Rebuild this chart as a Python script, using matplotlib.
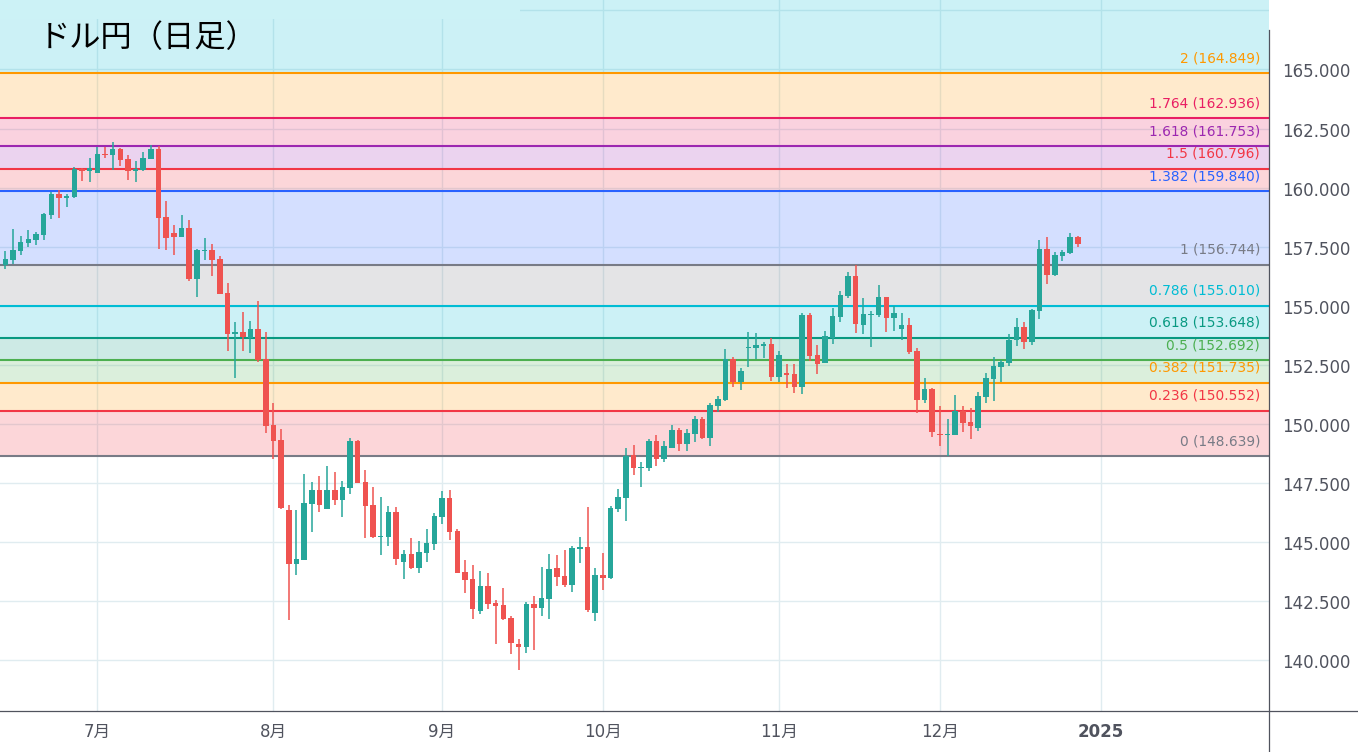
import numpy as np
import matplotlib
matplotlib.use('Agg')
import matplotlib.pyplot as plt
from matplotlib.lines import Line2D
from matplotlib.patches import Rectangle
from matplotlib.transforms import ScaledTranslation

plt.rcParams['font.family'] = ['DejaVu Sans', 'Noto Sans CJK JP']

# daily USDJPY candles
opens = [157.11, 156.73, 156.94, 157.32, 157.66, 157.79, 158.00, 158.84, 159.73, 159.56, 159.61, 160.79, 160.71,
         160.62, 161.42, 161.38, 161.64, 161.21, 160.71, 160.75, 161.21, 161.64, 158.76, 158.08, 157.91, 158.29,
         156.14, 157.32, 157.36, 156.98, 155.55, 153.81, 153.90, 153.64, 154.02, 152.75, 149.95, 149.32, 146.36,
         144.07, 144.24, 146.61, 147.20, 146.40, 147.20, 146.78, 147.29, 149.28, 147.54, 146.57, 145.22, 145.22,
         146.27, 144.16, 144.50, 143.90, 144.54, 144.92, 146.06, 146.87, 145.47, 143.74, 143.44, 142.09, 143.14,
         142.42, 142.34, 141.79, 140.69, 140.56, 142.38, 142.21, 142.59, 143.91, 143.57, 143.19, 144.71, 144.79,
         142.00, 143.61, 143.48, 146.40, 146.87, 148.69, 148.14, 148.14, 149.28, 148.52, 148.98, 149.74, 149.15,
         149.57, 150.21, 149.40, 150.76, 151.01, 152.75, 151.77, 153.21, 153.21, 153.30, 153.38, 151.99, 152.16,
         152.11, 151.56, 154.61, 152.92, 152.58, 153.64, 154.53, 155.41, 156.26, 154.19, 154.61, 154.61, 155.37,
         154.48, 154.02, 154.19, 153.09, 151.01, 151.48, 149.58, 149.53, 149.53, 150.55, 150.09, 149.83, 151.14,
         151.90, 152.41, 152.58, 153.55, 154.10, 153.47, 154.78, 157.40, 156.30, 157.11, 157.23, 157.91]
highs = [157.30, 157.32, 158.25, 157.96, 158.21, 158.13, 158.93, 159.82, 159.90, 159.73, 160.87, 160.83, 161.26,
         161.73, 161.72, 161.93, 161.68, 161.38, 161.13, 161.51, 161.82, 161.76, 159.44, 158.42, 158.84, 158.63,
         157.41, 157.87, 157.62, 157.11, 155.97, 154.32, 154.74, 154.36, 155.21, 153.90, 150.88, 149.78, 146.57,
         146.36, 147.88, 147.54, 147.80, 148.22, 147.97, 147.58, 149.40, 149.32, 148.05, 147.33, 146.91, 146.53,
         146.48, 144.67, 145.17, 145.05, 145.55, 146.23, 147.16, 147.20, 145.55, 144.22, 144.03, 143.78, 143.69,
         142.55, 143.06, 141.87, 140.90, 142.47, 142.72, 143.95, 144.50, 144.46, 144.67, 144.84, 145.22, 146.49,
         143.91, 144.54, 146.53, 147.25, 148.98, 149.11, 148.39, 149.36, 149.53, 149.28, 149.95, 149.83, 149.79,
         150.34, 150.29, 150.89, 151.18, 153.17, 152.83, 152.37, 153.89, 153.85, 153.47, 153.64, 153.09, 152.54,
         152.54, 154.70, 154.70, 153.34, 153.93, 154.91, 155.63, 156.43, 156.73, 155.33, 154.78, 155.88, 155.39,
         154.99, 154.70, 154.48, 153.21, 151.95, 151.52, 150.76, 150.21, 151.23, 150.76, 150.68, 151.35, 152.16,
         152.83, 152.71, 153.81, 154.48, 154.32, 154.87, 157.78, 157.91, 157.28, 157.36, 158.08, 157.95]
lows = [156.70, 156.56, 156.77, 157.15, 157.49, 157.58, 157.79, 158.68, 158.72, 159.18, 159.58, 160.28, 160.24,
        160.60, 161.26, 160.75, 160.92, 160.32, 160.24, 160.71, 161.19, 157.41, 157.36, 157.15, 157.89, 156.05,
        155.38, 156.94, 156.26, 155.48, 153.09, 151.95, 153.09, 153.01, 152.63, 149.62, 148.52, 146.40, 141.70,
        143.61, 144.22, 145.43, 146.27, 146.38, 146.57, 146.06, 147.03, 147.48, 145.17, 145.17, 144.45, 144.84,
        144.03, 143.44, 143.88, 143.69, 144.16, 144.67, 145.77, 145.09, 143.67, 142.85, 141.75, 141.96, 142.17,
        140.69, 141.70, 140.27, 139.59, 140.31, 140.44, 141.87, 141.75, 143.14, 143.10, 142.89, 144.12, 142.04,
        141.66, 142.97, 143.44, 146.27, 145.89, 147.84, 147.33, 148.01, 148.22, 148.39, 148.96, 148.85, 148.85,
        149.24, 149.36, 149.07, 150.50, 150.97, 151.56, 151.43, 152.41, 152.75, 152.79, 151.82, 151.78, 151.52,
        151.31, 151.27, 152.66, 152.11, 152.56, 153.38, 154.31, 155.33, 153.85, 153.81, 153.26, 154.53, 153.89,
        153.93, 153.55, 152.96, 150.47, 150.89, 149.45, 149.07, 148.65, 149.51, 149.66, 149.37, 149.70, 150.89,
        150.97, 151.78, 152.45, 153.30, 153.17, 153.34, 154.44, 155.92, 156.28, 156.90, 157.21, 157.49]
closes = [156.73, 156.98, 157.36, 157.70, 157.83, 158.04, 158.89, 159.73, 159.56, 159.65, 160.79, 160.71, 160.83,
          161.42, 161.38, 161.64, 161.17, 160.71, 160.79, 161.26, 161.64, 158.72, 157.87, 157.91, 158.29, 156.14,
          157.36, 157.36, 156.94, 155.50, 153.81, 153.90, 153.68, 154.02, 152.71, 149.93, 149.28, 146.44, 144.07,
          144.29, 146.65, 147.20, 146.57, 147.20, 146.78, 147.33, 149.28, 147.50, 146.53, 145.22, 145.26, 146.27,
          144.29, 144.50, 143.90, 144.58, 144.96, 146.10, 146.87, 145.43, 143.69, 143.40, 142.17, 143.14, 142.38,
          142.30, 141.75, 140.73, 140.56, 142.38, 142.21, 142.64, 143.86, 143.52, 143.19, 144.75, 144.79, 142.13,
          143.61, 143.48, 146.44, 146.91, 148.64, 148.14, 148.18, 149.28, 148.52, 149.07, 149.74, 149.15, 149.62,
          150.21, 149.40, 150.80, 151.05, 152.75, 151.77, 152.24, 153.26, 153.34, 153.38, 151.99, 152.92, 152.07,
          151.56, 154.61, 152.88, 152.54, 153.72, 154.57, 155.46, 156.26, 154.23, 154.65, 154.65, 155.37, 154.48,
          154.70, 154.19, 153.05, 151.01, 151.48, 149.66, 149.53, 149.58, 150.55, 150.04, 149.92, 151.19, 151.95,
          152.45, 152.62, 153.55, 154.10, 153.47, 154.82, 157.40, 156.30, 157.15, 157.28, 157.91, 157.61]
first_bar = -13  # bars shown before the 7月 tick

# fibonacci levels
fib_ratio = ['0', '0.236', '0.382', '0.5', '0.618', '0.786', '1', '1.382', '1.5', '1.618', '1.764', '2']
fib_price = [148.639, 150.552, 151.735, 152.692, 153.648, 155.010, 156.744, 159.840, 160.796, 161.753, 162.936, 164.849]
fib_color = ['#787b86', '#f23645', '#ff9800', '#4caf50', '#089981', '#00bcd4', '#787b86', '#2962ff', '#f23645',
             '#9c27b0', '#e91e63', '#ff9800']

month_labels = ['7月', '8月', '9月', '10月', '11月', '12月', '2025']
month_bars = [0, 23, 45, 66, 89, 110, 131]
price_ticks = [140, 142.5, 145, 147.5, 150, 152.5, 155, 157.5, 160, 162.5, 165]
grid_only = [167.5]

W, H = 1358, 752
fig = plt.figure(figsize=(W / 100, H / 100), dpi=100)
ax = fig.add_axes([0, 41 / H, 1269 / W, 711 / H])
ax.set_xlim(-12.70, 152.96)
ax.set_ylim(137.85, 167.94)

grid_c = '#e0ecf0'
for p in price_ticks + grid_only:
    ax.axhline(p, color=grid_c, lw=1.0, zorder=1)
for m in month_bars:
    ax.axvline(m, color=grid_c, lw=1.0, zorder=1)

# bands between the levels, each in the colour of its upper level
for i in range(len(fib_price) - 1):
    ax.axhspan(fib_price[i], fib_price[i + 1], color=fib_color[i + 1], alpha=0.2, lw=0, zorder=2)
ax.axhspan(fib_price[-1], 167.94, color='#00bcd4', alpha=0.2, lw=0, zorder=2)

# the top strip hides the grid left of x=520
ax.add_patch(Rectangle((0, 1 - 19 / 711), 520 / 1269, 19 / 711, transform=ax.transAxes,
                       color='#ccf2f6', lw=0, zorder=3))

for p, r, c in zip(fib_price, fib_ratio, fib_color):
    ax.axhline(p, color=c, lw=1.5, zorder=4)
    ax.annotate(f'{r} ({p:.3f})', xy=(1, p), xycoords=('axes fraction', 'data'), xytext=(-9, 15),
                textcoords='offset pixels', ha='right', va='center', color=c, fontsize=9.9, zorder=5)

x = np.arange(len(opens)) + first_bar
o, h, l, c = map(np.array, (opens, highs, lows, closes))
colors = np.where(c >= o, '#26a69a', '#ef5350')
ax.vlines(x, l, h, colors=colors, lw=1.1, zorder=6)
ax.bar(x, np.maximum(np.abs(c - o), 0.05), bottom=np.minimum(o, c), width=0.72, color=colors, lw=0, zorder=7)

ax.yaxis.tick_right()
ax.set_yticks(price_ticks)
ax.set_yticklabels([f'{p:.3f}' for p in price_ticks], fontsize=12, color='#50535e')
ax.tick_params(axis='y', length=0, pad=9.5)
# labels sit one pixel below their gridline
nudge = ScaledTranslation(0, -1 / 100, fig.dpi_scale_trans)
for lab in ax.get_yticklabels():
    lab.set_transform(lab.get_transform() + nudge)
ax.set_xticks(month_bars)
ax.set_xticklabels(month_labels, fontsize=12, color='#50535e')
ax.get_xticklabels()[-1].set_fontweight('bold')
ax.tick_params(axis='x', length=0, pad=8.7)
for s in ax.spines.values():
    s.set_visible(False)

# price scale and time scale borders run past the plot area
fig.add_artist(Line2D([1268.5 / W, 1268.5 / W], [0, 1 - 30 / H], color='#50535e', lw=0.9))
fig.add_artist(Line2D([0, 1], [41.5 / H, 41.5 / H], color='#50535e', lw=0.9))

fig.text(39 / W, 1 - 38.5 / H, 'ドル円（日足）', fontsize=22.5, va='center', ha='left', color='#000000',
         family=['Noto Sans CJK JP', 'DejaVu Sans'])

fig.savefig('out.png', dpi=100)
